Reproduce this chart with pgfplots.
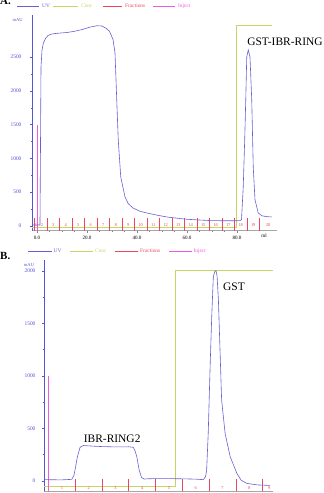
\documentclass[border=0pt]{standalone}
\usepackage{fontspec}
\setmainfont{Liberation Serif}
\usepackage{pgfplots}
\usepackage{pgfplotstable}
\pgfplotsset{compat=1.18}
\definecolor{uvc}{RGB}{105,95,210}
\definecolor{concc}{RGB}{200,212,100}
\definecolor{fracc}{RGB}{235,70,95}
\definecolor{injc}{RGB}{240,90,220}
\definecolor{ytc}{RGB}{85,85,215}

\pgfplotstableread{
x y
-1.6 15
1.2 15
1.4 1200
1.6 2350
2.0 2600
2.5 2700
3.5 2780
4.5 2820
6 2840
8 2850
12 2862
15 2880
18 2905
21 2940
24 2962
26 2958
27.6 2925
29 2880
30.4 2760
31.2 2560
31.9 1864
32.5 1272
33.5 725
35.2 430
36.5 330
38.4 266
41 220
43.9 192
48 160
51.9 133
56 115
59.9 99
65 88
69.2 80
75 77
81.2 78
81.8 95
82.5 577
83.1 1300
83.5 1864
83.9 2500
84.5 2604
85.2 2500
85.9 1864
86.5 873
87.2 385
88.5 192
90 150
91.9 138
93.9 133
}\uvA

\pgfplotstableread{
x y
-0.13 10
0.5 8
0.87 13
0.95 50
0.99 100
1.08 228
1.18 318
1.30 335
1.6 330
2.0 325
2.5 322
3.0 323
3.17 318
3.24 280
3.30 228
3.39 100
3.48 29
3.58 15
3.67 18
4.0 20
4.5 20
5.0 18
5.5 15
5.79 10
5.87 40
5.91 100
5.97 455
6.04 1086
6.10 1562
6.16 1943
6.22 1995
6.26 2000
6.30 1950
6.35 1721
6.41 1245
6.47 769
6.60 451
6.79 229
7.04 70
7.2 5
7.41 -25
7.8 -40
8.28 -45
}\uvB

\pgfplotstableread{
x y l
-0.4 20 1
2.0 20 2
6.5 20 3
11.5 20 4
16.5 20 5
21.5 20 6
26.5 20 7
31.5 20 8
36.5 20 9
41.5 20 10
46.5 20 11
51.5 20 12
56.5 20 13
61.5 20 14
66.5 20 15
71.5 20 16
76.5 20 17
81.5 20 18
86.5 20 19
92.5 20 20
}\fraclabA

\pgfplotstableread{
x y l
0.5 -68 1
1.5 -68 2
2.5 -68 3
3.5 -68 4
4.5 -68 5
5.5 -68 6
6.5 -68 7
7.5 -68 8
8.25 -68 9
}\fraclabB

\pgfplotsset{
  chrom/.style={
    scale only axis, anchor=south west,
    axis x line=bottom, axis y line=left,
    axis line style={-},
    x axis line style={draw=gray!70},
    y axis line style={draw=ytc},
    tick align=outside,
    major tick length=2bp, minor tick length=1.2bp,
    ytick style={draw=ytc, line width=0.3bp},
    xtick style={draw=gray, line width=0.3bp},
    yticklabel style={font=\fontsize{5.5}{6}\selectfont, text=ytc},
    xticklabel style={font=\fontsize{5.1}{6}\selectfont},
    /pgf/number format/assume math mode=true,
    /pgf/number format/1000 sep={},
    clip=false,
  },
  fraclab/.style={only marks, mark=none, nodes near coords, point meta=explicit symbolic,
    nodes near coords style={font=\fontsize{4.5}{5}\selectfont, text=fracc, anchor=center, inner sep=0pt}},
  fracline/.style={draw=fracc, line width=0.55bp, mark=none},
}

\begin{document}
\begin{tikzpicture}
\useasboundingbox (0bp,0bp) rectangle (324bp,493bp);

% ---------- Panel A ----------
\begin{axis}[chrom, at={(32bp,262.3bp)}, width=245bp, height=215.7bp,
  xmin=-2, xmax=96, ymin=-70, ymax=3121,
  ytick={0,500,...,2500}, minor y tick num=1,
  yticklabel style={xshift=-5bp},
  xtick={0,20,...,80}, minor x tick num=3,
  x tick label style={/pgf/number format/.cd, fixed, fixed zerofill, precision=1, /tikz/.cd},
  extra x ticks={90.8}, extra x tick labels={ml},
  extra x tick style={major tick length=0pt},
]
\addplot[concc, line width=0.5bp] coordinates {(-2,-15) (79.6,-15) (79.6,2973) (94,2973)};
\pgfplotsinvokeforeach{-1.0,0.3,4,9,14,19,24,29,34,39,44,49,54,59,64,69,74,79,84,89}{
  \addplot[fracline] coordinates {(#1,-70) (#1,118)};
}
\addplot[fraclab] table[meta=l] {\fraclabA};
\addplot[injc, line width=0.9bp] coordinates {(0,-70) (0,1500)};
\addplot[uvc, line width=0.6bp] table {\uvA};
\node[font=\fontsize{11.5}{12}\selectfont, anchor=center] at (axis cs:99.2,2722) {GST-IBR-RING};
\end{axis}

% ---------- Panel B ----------
\begin{axis}[chrom, at={(44bp,2bp)}, width=229bp, height=231bp,
  xmin=-0.168, xmax=8.39, ymin=-98, ymax=2102,
  ytick={0,500,...,2000}, minor y tick num=1,
  yticklabel style={xshift=-3bp},
  xtick=\empty,
]
\addplot[concc, line width=0.5bp] coordinates {(-0.168,-55) (4.74,-55) (4.74,2000) (8.38,2000)};
\pgfplotsinvokeforeach{0,1,2,3,4,5,6,7,8}{
  \addplot[fracline] coordinates {(#1,-98) (#1,13)};
}
\addplot[fraclab] table[meta=l] {\fraclabB};
\addplot[injc, line width=0.6bp] coordinates {(0,-98) (0,1000)};
\addplot[uvc, line width=0.6bp] table {\uvB};
\node[font=\fontsize{11.5}{12}\selectfont, anchor=center] at (axis cs:2.38,400) {IBR-RING2};
\node[font=\fontsize{11.5}{12}\selectfont, anchor=center] at (axis cs:6.93,1845) {GST};
\end{axis}

% ---------- panel letters, units and legends ----------
\begin{scope}[x=1bp,y=1bp]
\node[font=\fontsize{11}{12}\selectfont\bfseries, anchor=base west, inner sep=0pt] at (0,488) {A.};
\node[font=\fontsize{11}{12}\selectfont\bfseries, anchor=base west, inner sep=0pt] at (0,233.7) {B.};
\node[font=\fontsize{4.6}{5}\selectfont, text=ytc, inner sep=0pt] at (17.7,473) {mAU};
\node[font=\fontsize{4.6}{5}\selectfont, text=ytc, inner sep=0pt] at (29,228) {mAU};

\begin{scope}[every node/.style={font=\fontsize{5.4}{6}\selectfont, anchor=west, inner sep=0pt}]
\draw[uvc, line width=0.5bp] (17,487) -- (39,487);   \node[text=uvc] at (42,487) {UV};
\draw[concc, line width=0.5bp] (53,487) -- (78,487); \node[text=concc] at (81,487) {Conc};
\draw[fracc, line width=0.5bp] (103,487) -- (122,487); \node[text=fracc] at (125,487) {Fractions};
\draw[injc, line width=0.5bp] (153,487) -- (175,487); \node[text=injc] at (178,487) {Inject};

\draw[uvc, line width=0.5bp] (28,242) -- (52,242);   \node[text=uvc] at (53.5,242) {UV};
\draw[concc, line width=0.5bp] (70,242) -- (93,242); \node[text=concc] at (95,242) {Conc};
\draw[fracc, line width=0.5bp] (115,242) -- (138,242); \node[text=fracc] at (140,242) {Fractions};
\draw[injc, line width=0.5bp] (169,242) -- (192,242); \node[text=injc] at (193.5,242) {Inject};
\end{scope}
\end{scope}
\end{tikzpicture}
\end{document}
